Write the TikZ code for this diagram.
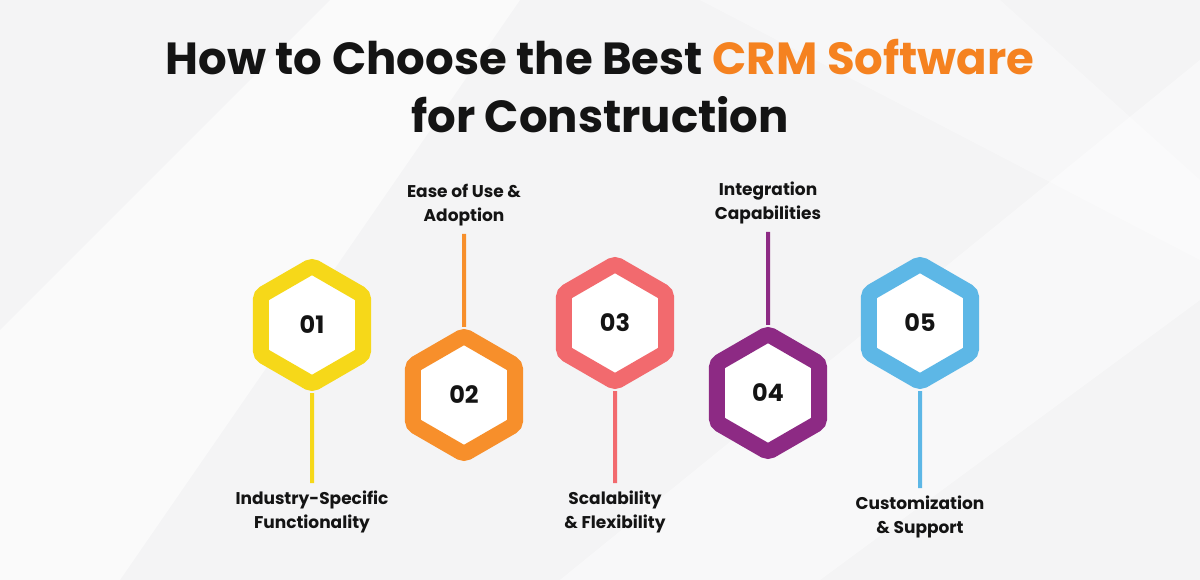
\documentclass[tikz,border=0pt]{standalone}
\usepackage{fontspec}
\setmainfont{Poppins}
\usetikzlibrary{shapes.geometric}

\definecolor{hexone}{HTML}{F6D819}
\definecolor{hextwo}{HTML}{F78F2B}
\definecolor{hexthree}{HTML}{F26A6E}
\definecolor{hexfour}{HTML}{8D2A84}
\definecolor{hexfive}{HTML}{5DB7E6}
\definecolor{titleorange}{HTML}{F58220}
\definecolor{bgback}{HTML}{F4F4F5}
\definecolor{textdark}{HTML}{141414}

\begin{document}
\begin{tikzpicture}[x=1pt,y=-1pt,
    hexring/.style={regular polygon, regular polygon sides=6, shape border rotate=30,
      minimum size=118pt, line width=16pt, rounded corners=4pt, fill=white, draw=#1,
      inner sep=0pt, font=\fontsize{24}{24}\bfseries, text=textdark},
    steplabel/.style={align=center, inner sep=2pt, font=\fontsize{17}{24}\bfseries, text=textdark},
    stem/.style={line width=4pt, draw=#1, shorten >=6pt}]
  % Background
  \fill[bgback] (0,0) rectangle (1200,580);
  \fill[white, opacity=0.55] (0,330) -- (330,0) -- (520,0) -- (120,580) -- (0,580) -- cycle;
  \fill[white, opacity=0.45] (560,580) -- (1200,60) -- (1200,300) -- (820,580) -- cycle;
  \fill[white, opacity=0.35] (700,0) -- (1000,0) -- (1200,180) -- (1200,260) -- cycle;
  \useasboundingbox (0,0) rectangle (1200,580);

  % Title
  \node[font=\fontsize{45}{58}\bfseries, text=textdark, align=center] (title) at (600,86)
    {How to Choose the Best \textcolor{titleorange}{CRM Software}\\ for Construction};

  % Hexagons
  \node[hexring=hexone] (h1) at (312,325) {01};
  \node[hexring=hextwo] (h2) at (464,395) {02};
  \node[hexring=hexthree] (h3) at (615,323) {03};
  \node[hexring=hexfour] (h4) at (768,393) {04};
  \node[hexring=hexfive] (h5) at (920,323) {05};

  % Labels
  \node[steplabel, anchor=north] (l1) at (312,489) {Industry-Specific\\Functionality};
  \node[steplabel, anchor=south] (l2) at (464,228) {Ease of Use \&\\Adoption};
  \node[steplabel, anchor=north] (l3) at (615,489) {Scalability\\\& Flexibility};
  \node[steplabel, anchor=south] (l4) at (768,226) {Integration\\Capabilities};
  \node[steplabel, anchor=north] (l5) at (920,494) {Customization\\\& Support};

  % Stems
  \draw[stem=hexone] (h1.south) -- (l1.north);
  \draw[stem=hextwo] (h2.north) -- (l2.south);
  \draw[stem=hexthree] (h3.south) -- (l3.north);
  \draw[stem=hexfour] (h4.north) -- (l4.south);
  \draw[stem=hexfive] (h5.south) -- (l5.north);
\end{tikzpicture}
\end{document}
